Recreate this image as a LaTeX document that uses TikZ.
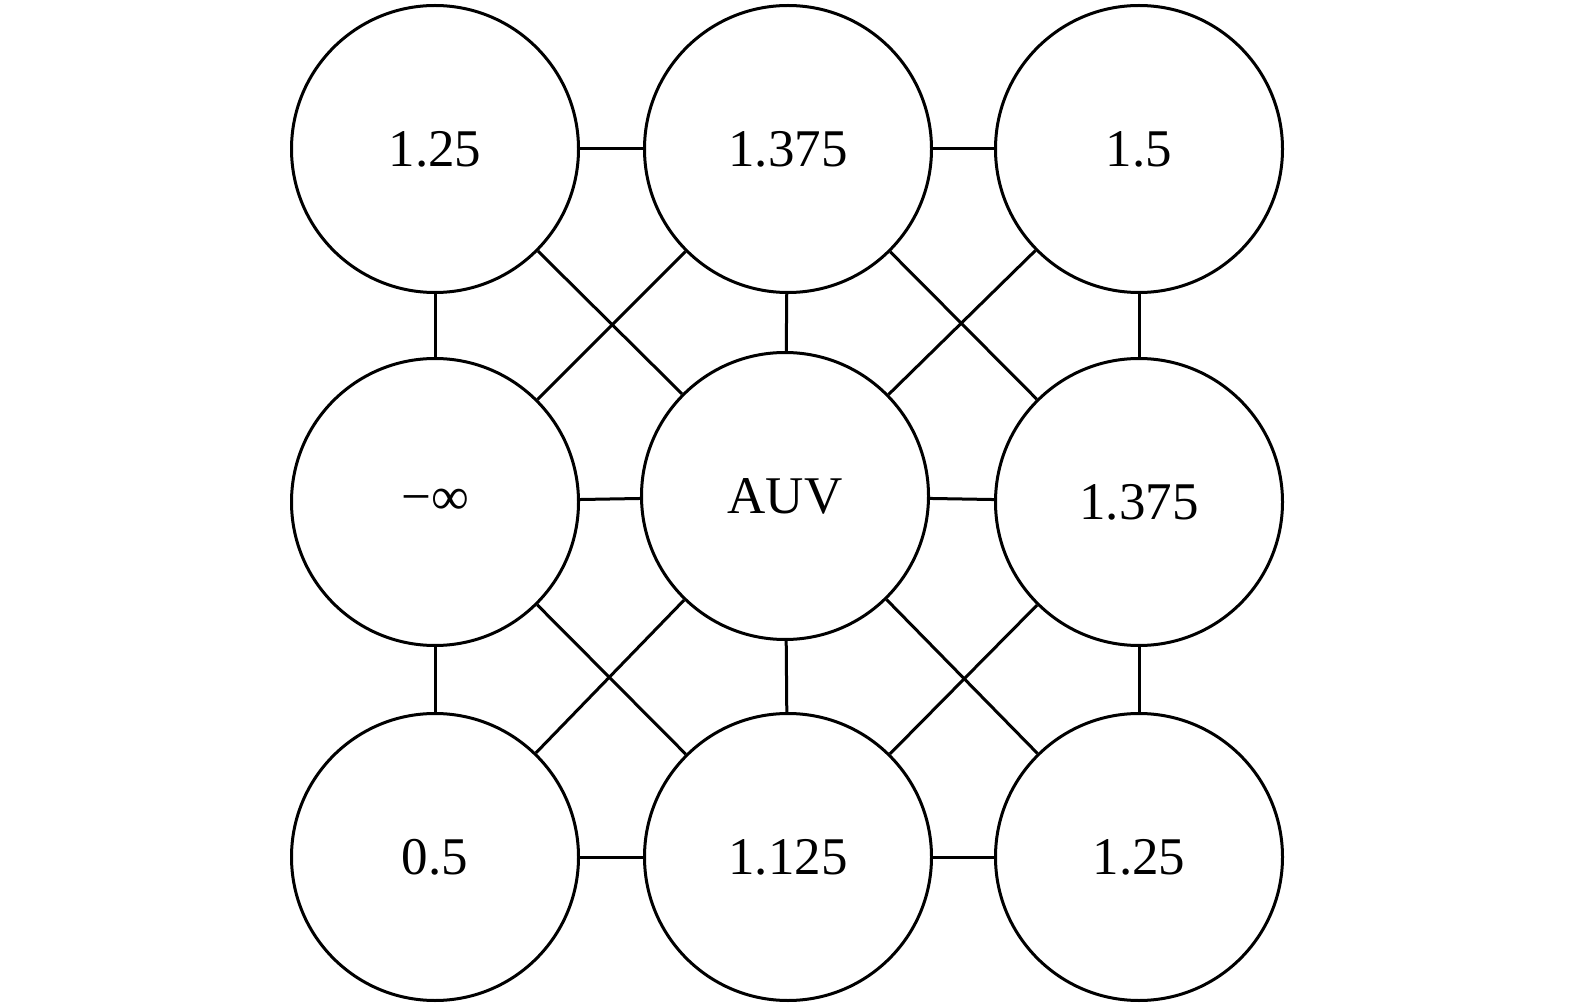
\documentclass[tikz,border=0pt]{standalone}
\usepackage{fontspec}
\setmainfont{Liberation Serif}
\begin{document}
\begin{tikzpicture}[x=0.5pt,y=-0.5pt,
  cell/.style={circle,draw,line width=1.5pt,minimum size=143.5pt,inner sep=0pt,font=\fontsize{26.5}{30}\selectfont},
  link/.style={line width=1.5pt}]
\useasboundingbox (0,0) rectangle (1575,1005);
\node[cell] (a) at (435,149) {1.25};
\node[cell] (b) at (788,149) {1.375};
\node[cell] (c) at (1139,149) {1.5};
\node[cell] (d) at (435,502) {−∞};
\node[cell] (e) at (785,496) {AUV};
\node[cell] (f) at (1139,502) {1.375};
\node[cell] (g) at (435,857) {0.5};
\node[cell] (h) at (788,857) {1.125};
\node[cell] (i) at (1139,857) {1.25};
\foreach \p/\q in {a/b,b/c,d/e,e/f,g/h,h/i,a/d,d/g,b/e,e/h,c/f,f/i,a/e,b/d,b/f,c/e,d/h,e/g,e/i,f/h}
  \draw[link] (\p) -- (\q);
\end{tikzpicture}
\end{document}
